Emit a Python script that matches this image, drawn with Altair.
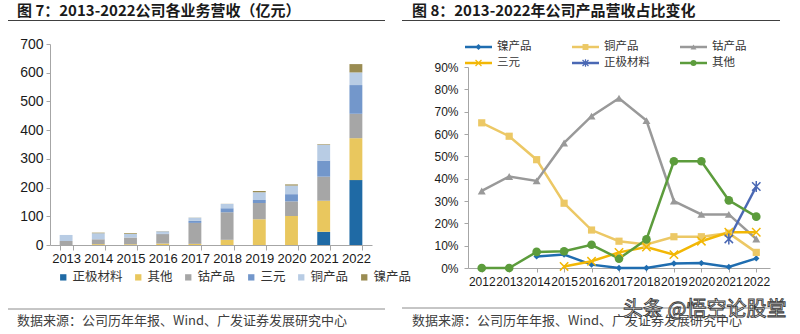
import altair as alt
import pandas as pd

# ---------------- left chart data (亿元) ----------------
years_left = ["2013", "2014", "2015", "2016", "2017", "2018", "2019", "2020", "2021", "2022"]
cat_order = ["正极材料", "其他", "钴产品", "三元", "铜产品", "镍产品"]
zhengji = [0, 0, 0, 0, 0, 0, 0, 0, 46, 226]
qita = [0, 3, 3, 5, 4, 18, 90, 101, 108, 146]
gu = [14, 17, 23, 33, 73, 96, 56, 51, 84, 85]
sanyuan = [0, 0, 0.3, 1.5, 7, 14, 11, 25, 56, 100]
tong = [21, 21, 12, 8, 11, 15, 27, 30, 55, 44]
nie = [0, 2, 2.5, 0.7, 0.5, 0.4, 4, 4, 2, 29]
bar_colors = ["#1f6aa5", "#e9c75e", "#a6a6a6", "#7397cb", "#b8cce4", "#9a8c52"]

# ---------------- right chart data (%) ----------------
years_right = ["2012", "2013", "2014", "2015", "2016", "2017", "2018", "2019", "2020", "2021", "2022"]
r_nie = [None, None, 5.2, 6.0, 1.5, 0, 0, 2.0, 2.2, 0.5, 4.3]
r_tong = [65, 59, 48.5, 29, 17, 12, 10.5, 14, 14, 15.6, 7]
r_gu = [34.5, 41, 39, 56, 68, 76, 66, 30, 24, 24, 13]
r_sanyuan = [None, None, None, 0.7, 3, 7, 9.4, 6, 12, 16, 16]
r_zhengji = [None, None, None, None, None, None, None, None, None, 13, 36.5]
r_qita = [0, 0, 7.2, 7.5, 10.4, 4.2, 12.8, 47.8, 47.8, 30.3, 23]
line_order = ["镍产品", "铜产品", "钴产品", "三元", "正极材料", "其他"]
line_colors = ["#1f6db0", "#ecc865", "#999999", "#f2b705", "#4a68b4", "#5c9c3c"]

title_left = "图 7：2013-2022公司各业务营收（亿元）"
title_right = "图 8：2013-2022年公司产品营收占比变化"
source_text = "数据来源：公司历年年报、Wind、广发证券发展研究中心"
watermark = "头条 @悟空论股堂"

CJK = "Noto Sans CJK SC"
LAT = "Liberation Sans"

# ---------------- tables ----------------
left_series = [zhengji, qita, gu, sanyuan, tong, nie]
rows = []
for k, (cat, vals) in enumerate(zip(cat_order, left_series)):
    for y, v in zip(years_left, vals):
        rows.append({"year": y, "cat": cat, "value": v, "ord": k})
left_df = pd.DataFrame(rows)

right_series = [r_nie, r_tong, r_gu, r_sanyuan, r_zhengji, r_qita]
rows = []
for s, vals in zip(line_order, right_series):
    for y, v in zip(years_right, vals):
        if v is not None:
            rows.append({"year": y, "series": s, "value": v})
right_df = pd.DataFrame(rows)

filled_series = ["镍产品", "铜产品", "钴产品", "其他"]
filled_shapes = ["diamond", "square", "triangle-up", "circle"]
filled_sizes = [40, 75, 80, 75]
stroke_series = ["三元", "正极材料"]
stroke_shapes = ["M-1,-1L1,1M-1,1L1,-1", "M-1,-1L1,1M-1,1L1,-1M0,-1.3L0,1.3"]

# ---------------- left stacked bars ----------------
bars = alt.Chart(left_df).mark_bar().encode(
    x=alt.X("year:O", sort=years_left,
            scale=alt.Scale(range=[50, 372], paddingInner=0.6, paddingOuter=0.3),
            axis=alt.Axis(orient="bottom", offset=-89, title=None, labelAngle=0,
                          labelFontSize=13, labelFont=LAT, labelColor="#1a1a1a",
                          tickBand="extent", tickSize=5, tickColor="#a6a6a6",
                          domainColor="#a6a6a6", labelPadding=2, grid=False)),
    y=alt.Y("value:Q", stack="zero",
            scale=alt.Scale(domain=[0, 700], range=[245, 44], nice=False),
            axis=alt.Axis(orient="left", offset=-50, values=list(range(0, 701, 100)),
                          title=None, labelFontSize=14, labelFont=LAT, labelColor="#1a1a1a",
                          tickSize=4, tickColor="#a6a6a6", domainColor="#a6a6a6",
                          labelPadding=3, grid=False)),
    color=alt.Color("cat:N", scale=alt.Scale(domain=cat_order, range=bar_colors),
                    legend=alt.Legend(orient="none", legendX=57, legendY=271,
                                      direction="horizontal", title=None,
                                      symbolType="square", symbolSize=40,
                                      symbolStrokeWidth=0,
                                      labelFontSize=12.5, labelFont=CJK,
                                      labelColor="#333333",
                                      columnPadding=9, labelOffset=3)),
    order=alt.Order("ord:Q", sort="ascending"),
)

# ---------------- right lines ----------------
xr = alt.X("year:O", sort=years_right,
           scale=alt.Scale(type="point", range=[468, 770], padding=0.5),
           axis=alt.Axis(orient="bottom", offset=-66, title=None, labelAngle=0,
                         labelFontSize=12, labelFont=LAT, labelColor="#1a1a1a",
                         labelOverlap=False, tickSize=4, tickColor="#a6a6a6",
                         domainColor="#a6a6a6", labelPadding=4, grid=False))
yr = alt.Y("value:Q",
           scale=alt.Scale(domain=[0, 90], range=[268, 67], nice=False),
           axis=alt.Axis(orient="left", offset=-468, values=list(range(0, 91, 10)),
                         labelExpr="datum.value + '%'", title=None,
                         labelFontSize=12, labelFont=LAT, labelColor="#1a1a1a",
                         tickSize=4, tickColor="#a6a6a6", domainColor="#a6a6a6",
                         labelPadding=6, grid=False))
cr = alt.Color("series:N", scale=alt.Scale(domain=line_order, range=line_colors), legend=None)

lines = alt.Chart(right_df).mark_line(strokeWidth=2.5).encode(x=xr, y=yr, color=cr)
pts_f = alt.Chart(right_df).transform_filter(
    alt.FieldOneOfPredicate(field="series", oneOf=filled_series)
).mark_point(filled=True, opacity=1).encode(
    x=xr, y=yr, color=cr,
    shape=alt.Shape("series:N", scale=alt.Scale(domain=filled_series, range=filled_shapes), legend=None),
    size=alt.Size("series:N", scale=alt.Scale(domain=filled_series, range=filled_sizes), legend=None),
)
pts_s = alt.Chart(right_df).transform_filter(
    alt.FieldOneOfPredicate(field="series", oneOf=stroke_series)
).mark_point(filled=False, strokeWidth=1.5, size=70, opacity=1).encode(
    x=xr, y=yr, color=cr,
    shape=alt.Shape("series:N", scale=alt.Scale(domain=stroke_series, range=stroke_shapes), legend=None),
)
right = alt.layer(lines, pts_f, pts_s).resolve_scale(shape="independent", size="independent")

# ---------------- right legend (manual) ----------------
leg_x = [465, 572, 680, 465, 572, 680]
leg_y = [47, 47, 47, 63, 63, 63]
leg_df = pd.DataFrame({
    "series": line_order,
    "lx": leg_x,
    "lx2": [v + 27 for v in leg_x],
    "mx": [v + 13.5 for v in leg_x],
    "tx": [v + 32 for v in leg_x],
    "ly": leg_y,
})
lc = alt.Color("series:N", scale=alt.Scale(domain=line_order, range=line_colors), legend=None)
leg_lines = alt.Chart(leg_df).mark_rule(strokeWidth=2.5).encode(
    x=alt.X("lx:Q", scale=None), x2="lx2:Q", y=alt.Y("ly:Q", scale=None), color=lc)
leg_pf = alt.Chart(leg_df).transform_filter(
    alt.FieldOneOfPredicate(field="series", oneOf=filled_series)
).mark_point(filled=True, opacity=1, size=35).encode(
    x=alt.X("mx:Q", scale=None), y=alt.Y("ly:Q", scale=None), color=lc,
    shape=alt.Shape("series:N", scale=alt.Scale(domain=filled_series, range=filled_shapes), legend=None))
leg_ps = alt.Chart(leg_df).transform_filter(
    alt.FieldOneOfPredicate(field="series", oneOf=stroke_series)
).mark_point(filled=False, strokeWidth=1.2, size=35, opacity=1).encode(
    x=alt.X("mx:Q", scale=None), y=alt.Y("ly:Q", scale=None), color=lc,
    shape=alt.Shape("series:N", scale=alt.Scale(domain=stroke_series, range=stroke_shapes), legend=None))
leg_text = alt.Chart(leg_df).mark_text(align="left", baseline="middle", font=CJK,
                                       fontSize=11.5, color="#333333").encode(
    x=alt.X("tx:Q", scale=None), y=alt.Y("ly:Q", scale=None), text="series:N")

# ---------------- titles, rules, sources, watermark ----------------
one = pd.DataFrame({"k": [0]})


def txt(s, x, y, size, weight="normal", color="#1a1a1a", font=CJK):
    return alt.Chart(one).mark_text(text=s, align="left", baseline="middle", font=font,
                                    fontSize=size, fontWeight=weight, color=color).encode(
        x=alt.value(x), y=alt.value(y))


def hrule(x1, x2, y, color, w=1):
    return alt.Chart(one).mark_rule(color=color, strokeWidth=w).encode(
        x=alt.value(x1), x2=alt.value(x2), y=alt.value(y))


t1 = txt(title_left, 17, 11, 15, "bold")
t2 = txt(title_right, 412, 11, 15, "bold")
r1 = hrule(8, 385, 20.5, "#404040")
r2 = hrule(402, 780, 20.5, "#404040")
r3 = hrule(8, 385, 309, "#8c8c8c")
r4 = hrule(402, 780, 308, "#8c8c8c")
s1 = txt(source_text, 17, 321, 13, color="#404040")
s2 = txt(source_text, 412, 321, 13, color="#404040")
wm = alt.Chart(one).mark_text(text=watermark, align="left", baseline="middle", font=CJK,
                              fontSize=20, color="white", stroke="#3a3a3a",
                              strokeWidth=0.9).encode(x=alt.value(623), y=alt.value(310))

chart = alt.layer(
    bars, right, leg_lines, leg_pf, leg_ps, leg_text,
    t1, t2, r1, r2, r3, r4, s1, s2, wm,
).resolve_scale(
    x="independent", y="independent", color="independent",
    shape="independent", size="independent",
).resolve_axis(x="independent", y="independent").properties(
    width=800, height=334, padding=0,
    autosize=alt.AutoSizeParams(type="none"),
    background="white",
).configure_view(stroke=None)

chart.save("out.html", embed_options={"renderer": "svg", "actions": False})
